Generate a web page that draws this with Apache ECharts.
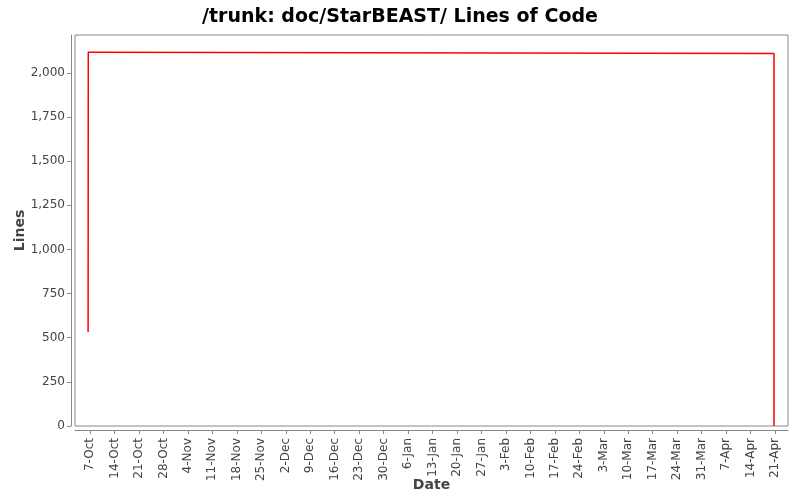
<!DOCTYPE html>
<html>
<head>
<meta charset="utf-8">
<title>Lines of Code</title>
<script src="https://cdn.jsdelivr.net/npm/echarts@6/dist/echarts.min.js"></script>
<style>
  html, body { margin: 0; padding: 0; background: #ffffff; }
  #chart { width: 800px; height: 500px; }
</style>
</head>
<body>
<div id="chart"></div>
<script>
// weeks since 7-Oct, one label per week
const weekLabels = ['7-Oct', '14-Oct', '21-Oct', '28-Oct', '4-Nov', '11-Nov', '18-Nov', '25-Nov',
    '2-Dec', '9-Dec', '16-Dec', '23-Dec', '30-Dec', '6-Jan', '13-Jan', '20-Jan', '27-Jan',
    '3-Feb', '10-Feb', '17-Feb', '24-Feb', '3-Mar', '10-Mar', '17-Mar', '24-Mar', '31-Mar',
    '7-Apr', '14-Apr', '21-Apr'];
const weekDays = weekLabels.map(function(_, i) { return i * 7; });

// commits: day offset from 7-Oct and line count
const commitDays = [-0.55, -0.5, 1.5, 195.7];
const commitLines = [532, 2117, 2110, 0];

const yTicks = [0, 250, 500, 750, 1000, 1250, 1500, 1750, 2000];

const chart = echarts.init(document.getElementById('chart'));
const fontFamily = '"DejaVu Sans", Verdana, sans-serif';

chart.setOption({
    backgroundColor: '#ffffff',
    animation: false,
    title: {
        text: '/trunk: doc/StarBEAST/ Lines of Code',
        left: 'center',
        top: 3,
        textStyle: { fontFamily: fontFamily, fontSize: 19, fontWeight: 'bold', color: '#000000' }
    },
    grid: {
        left: 75,
        right: 12,
        top: 35,
        bottom: 74,
        outerBoundsMode: 'none',
        show: true,
        borderColor: '#888888',
        borderWidth: 1,
        backgroundColor: '#ffffff'
    },
    xAxis: {
        type: 'value',
        min: -4.3,
        max: 199.7,
        offset: 4,
        name: 'Date',
        nameLocation: 'middle',
        nameGap: 48,
        nameMoveOverlap: false,
        nameTextStyle: { fontFamily: fontFamily, fontSize: 14, fontWeight: 'bold', color: '#444444' },
        axisLine: { show: true, onZero: false, lineStyle: { color: '#888888' } },
        axisTick: { show: true, length: 4, lineStyle: { color: '#888888' }, customValues: weekDays },
        axisLabel: {
            customValues: weekDays,
            rotate: 90,
            fontFamily: fontFamily,
            fontSize: 12,
            color: '#444444',
            margin: 8,
            formatter: function(v) { return weekLabels[Math.round(v / 7)]; }
        },
        splitLine: { show: false }
    },
    yAxis: {
        type: 'value',
        min: 0,
        max: 2215,
        offset: 4,
        name: 'Lines',
        nameLocation: 'middle',
        nameGap: 44,
        nameMoveOverlap: false,
        nameTextStyle: { fontFamily: fontFamily, fontSize: 14, fontWeight: 'bold', color: '#444444' },
        axisLine: { show: true, onZero: false, lineStyle: { color: '#888888' } },
        axisTick: { show: true, length: 4, lineStyle: { color: '#888888' }, customValues: yTicks },
        axisLabel: {
            customValues: yTicks,
            fontFamily: fontFamily,
            fontSize: 12,
            color: '#444444',
            margin: 6,
            formatter: function(v) { return v.toLocaleString('en-US'); }
        },
        splitLine: { show: false }
    },
    series: [{
        type: 'line',
        step: 'end',
        showSymbol: false,
        data: commitDays.map(function(d, i) { return [d, commitLines[i]]; }),
        lineStyle: { color: '#ff0000', width: 1.5 },
        itemStyle: { color: '#ff0000' }
    }]
});
</script>
</body>
</html>
